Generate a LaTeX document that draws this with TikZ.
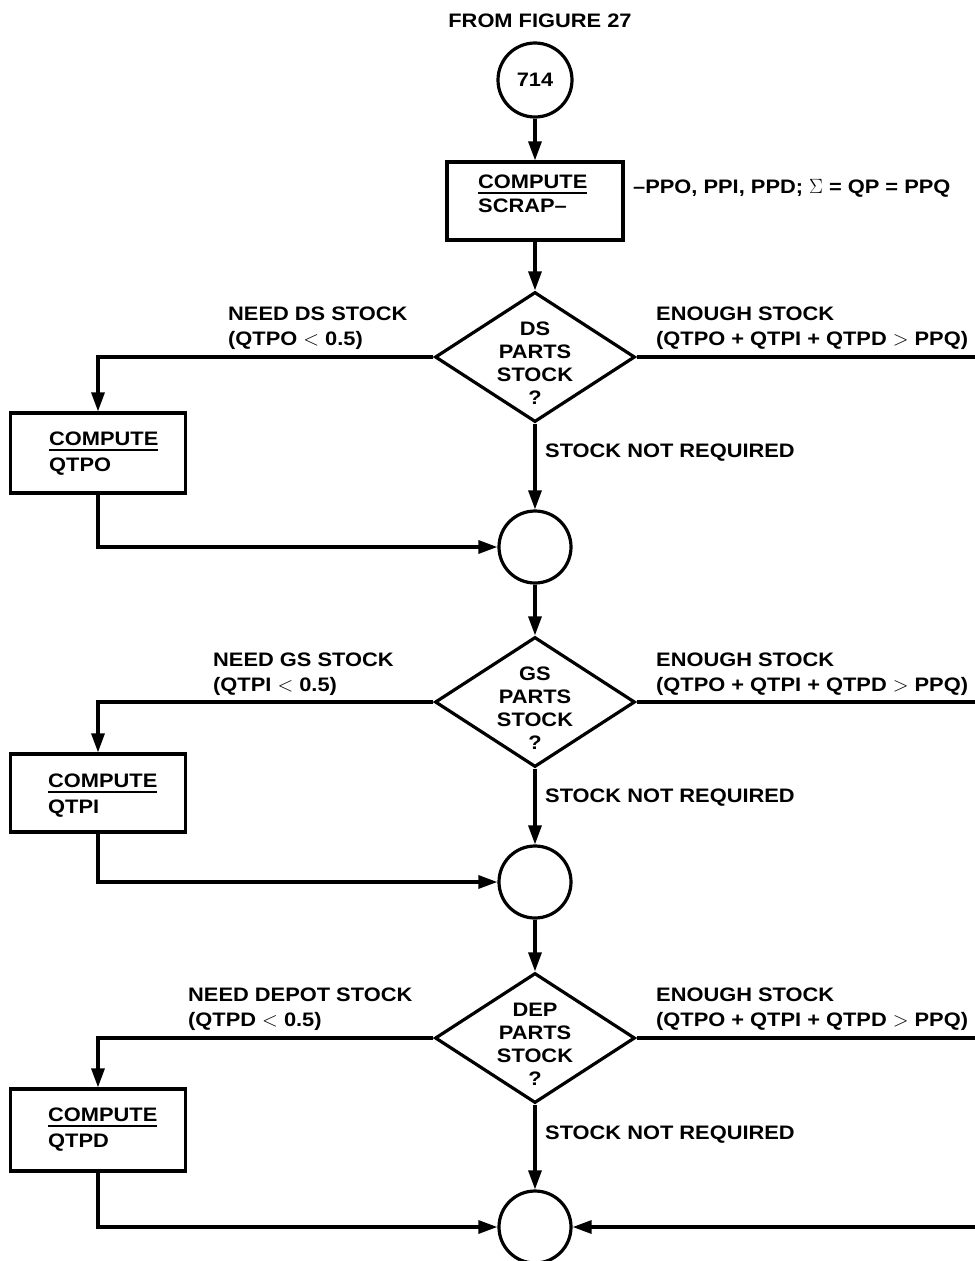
\documentclass[tikz,border=0pt]{standalone}
\usepackage{fontspec}
\setmainfont{Liberation Sans}[FakeStretch=1.12]
\usetikzlibrary{shapes.geometric,arrows.meta}
\newcommand\ulword[1]{\setbox0\hbox{#1}\rlap{\raisebox{-5bp}{\rule{\wd0}{2bp}}}\box0}
\tikzset{
  lw/.style={line width=3.2bp},
  box/.style={draw, lw, rectangle, inner sep=0pt, minimum width=175bp},
  dia/.style={draw, lw, diamond, inner sep=0pt, minimum width=200bp, minimum height=130bp},
  conn/.style={draw, lw, circle, inner sep=0pt, minimum size=72bp},
  arr/.style={lw, -{Triangle[length=19bp,width=13bp]}},
  txt/.style={font=\bfseries\fontsize{19.5bp}{25bp}\selectfont, inner sep=0pt, align=left},
  dtxt/.style={font=\bfseries\fontsize{19.5bp}{23bp}\selectfont, inner sep=0pt, align=center},
  btxt/.style={font=\bfseries\fontsize{19.5bp}{26bp}\selectfont, inner sep=0pt, align=left, anchor=north west},
}
\begin{document}
\begin{tikzpicture}[x=1bp,y=-1bp]
\useasboundingbox (0,0) rectangle (975,1261);
\fill[white] (0,0) rectangle (975,1261);

% title and entry connector
\node[txt, anchor=base] (title) at (540,27) {FROM FIGURE 27};
\node[conn, txt, minimum size=74bp] (c0) at (535,80) {714};

% scrap box
\node[box, minimum width=176bp, minimum height=78bp] (b0) at (535,201) {};
\node[btxt, font=\bfseries\fontsize{19.5bp}{24bp}\selectfont] (b0t) at (478,175) {\ulword{COMPUTE}\\SCRAP--};
\node[txt, anchor=base west] (scrapnote) at (633,193) {--PPO, PPI, PPD; $\Sigma$ = QP = PPQ};

% DS decision
\node[dia] (ds) at (535,357) {};
\node[dtxt, anchor=north] (dst) at (535,322) {DS\\PARTS\\STOCK\\?};
\node[box, minimum height=80bp] (b1) at (98,453) {};
\node[btxt] (b1t) at (49,432) {\ulword{COMPUTE}\\QTPO};
\node[conn] (c1) at (535,547) {};
\coordinate (r1) at (975,357);
\node[txt, anchor=north west] (l1a) at (228,307) {NEED DS STOCK\\(QTPO $<$ 0.5)};
\node[txt, anchor=north west] (l1b) at (656,307) {ENOUGH STOCK\\(QTPO + QTPI + QTPD $>$ PPQ)};
\node[txt, anchor=base west] (l1c) at (545,457) {STOCK NOT REQUIRED};

% GS decision
\node[dia] (gs) at (535,702) {};
\node[dtxt, anchor=north] (gst) at (535,667) {GS\\PARTS\\STOCK\\?};
\node[box, minimum height=78bp] (b2) at (98,793) {};
\node[btxt] (b2t) at (48,774) {\ulword{COMPUTE}\\QTPI};
\node[conn] (c2) at (535,882) {};
\coordinate (r2) at (975,702);
\node[txt, anchor=north west] (l2a) at (213,653) {NEED GS STOCK\\(QTPI $<$ 0.5)};
\node[txt, anchor=north west] (l2b) at (656,653) {ENOUGH STOCK\\(QTPO + QTPI + QTPD $>$ PPQ)};
\node[txt, anchor=base west] (l2c) at (545,802) {STOCK NOT REQUIRED};

% DEP decision
\node[dia] (dep) at (535,1038) {};
\node[dtxt, anchor=north] (dept) at (535,1003) {DEP\\PARTS\\STOCK\\?};
\node[box, minimum height=82bp] (b3) at (98,1130) {};
\node[btxt] (b3t) at (48,1108) {\ulword{COMPUTE}\\QTPD};
\node[conn] (c3) at (535,1227) {};
\coordinate (r3) at (975,1038);
\coordinate (r4) at (975,1227);
\node[txt, anchor=north west] (l3a) at (188,988) {NEED DEPOT STOCK\\(QTPD $<$ 0.5)};
\node[txt, anchor=north west] (l3b) at (656,988) {ENOUGH STOCK\\(QTPO + QTPI + QTPD $>$ PPQ)};
\node[txt, anchor=base west] (l3c) at (545,1139) {STOCK NOT REQUIRED};

% connectors
\draw[arr] (c0) -- (b0);
\draw[arr] (b0) -- (ds);
\draw[arr] (ds.west) -| (b1.north);
\draw[arr] (b1.south) |- (c1.west);
\draw[lw] (ds.east) -- (r1);
\draw[arr] (ds.south) -- (c1.north);
\draw[arr] (c1) -- (gs);
\draw[arr] (gs.west) -| (b2.north);
\draw[arr] (b2.south) |- (c2.west);
\draw[lw] (gs.east) -- (r2);
\draw[arr] (gs.south) -- (c2.north);
\draw[arr] (c2) -- (dep);
\draw[arr] (dep.west) -| (b3.north);
\draw[arr] (b3.south) |- (c3.west);
\draw[lw] (dep.east) -- (r3);
\draw[arr] (dep.south) -- (c3.north);
\draw[arr] (r4) -- (c3.east);
\end{tikzpicture}
\end{document}
